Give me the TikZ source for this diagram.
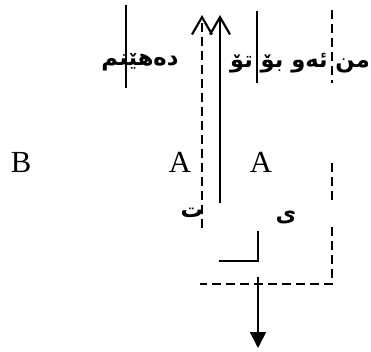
\documentclass[tikz,border=0pt]{standalone}
\usepackage{fontspec}
\setmainfont{Liberation Serif}
\newfontfamily\arabicfont[Script=Arabic]{DejaVu Sans}
\TeXXeTstate=1
\usetikzlibrary{arrows.meta}

\tikzset{
  kutext/.style={font=\arabicfont\bfseries\fontsize{17}{20}\selectfont, inner sep=0pt},
  lettext/.style={font=\fontsize{23}{27}\selectfont, inner sep=0pt},
  solidline/.style={line width=1.4pt},
  thinline/.style={line width=1.1pt},
  dashline/.style={line width=1.4pt, dash pattern=on 7pt off 3.5pt},
  upbarb/.style={-{Straight Barb[length=13pt, width=15pt, line width=1.6pt]}},
  downhead/.style={-{Triangle[length=12pt, width=12pt]}},
}

\begin{document}
\begin{tikzpicture}[x=0.75pt, y=-0.75pt]
  \useasboundingbox (0,0) rectangle (371,351);

  % -- texts --
  \node[kutext] (tome) at (300,63) {\beginR من ئەو بۆ تۆ\endR};
  \node[kutext] (bring) at (140,62) {\beginR دەهێنم\endR};
  \node[lettext] (letB) at (21,162) {B};
  \node[lettext] (letAl) at (180,162) {A};
  \node[lettext] (letAr) at (261,162) {A};
  \node[kutext] (letT) at (192,213) {\beginR ت\endR};
  \node[kutext] (letY) at (286,217) {\beginR ی\endR};

  % -- points --
  \coordinate (dashbot) at (202,228);
  \coordinate (dashtop) at (202,15);
  \coordinate (solbot) at (220,203);
  \coordinate (soltop) at (220,15);
  \coordinate (barLtop) at (126,5);
  \coordinate (barLbot) at (126,88);
  \coordinate (barRtop) at (257,11);
  \coordinate (barRbot) at (257,83);
  \coordinate (sideA) at (332,10);
  \coordinate (sideB) at (332,83);
  \coordinate (sideC) at (332,163);
  \coordinate (sideD) at (332,200);
  \coordinate (sideE) at (332,227);
  \coordinate (corner) at (332,284);
  \coordinate (baseL) at (200,284);
  \coordinate (hookT) at (258,231);
  \coordinate (hookC) at (258,261);
  \coordinate (hookL) at (219,261);
  \coordinate (outT) at (258,277);
  \coordinate (outB) at (258,348);

  % -- up arrows --
  \draw[dashline, upbarb] (dashbot) -- (dashtop);
  \draw[solidline, upbarb] (solbot) -- (soltop);

  % -- bars through texts --
  \draw[thinline] (barLtop) -- (barLbot);
  \draw[thinline] (barRtop) -- (barRbot);

  % -- dashed frame on the right --
  \draw[dashline, line width=1.1pt] (sideA) -- (sideB);
  \draw[dashline, line width=1.1pt] (sideC) -- (sideD);
  \draw[dashline, line width=1.1pt] (sideE) -- (corner) -- (baseL);

  % -- hook and output --
  \draw[solidline] (hookT) -- (hookC) -- (hookL);
  \draw[solidline, downhead] (outT) -- (outB);
\end{tikzpicture}
\end{document}
